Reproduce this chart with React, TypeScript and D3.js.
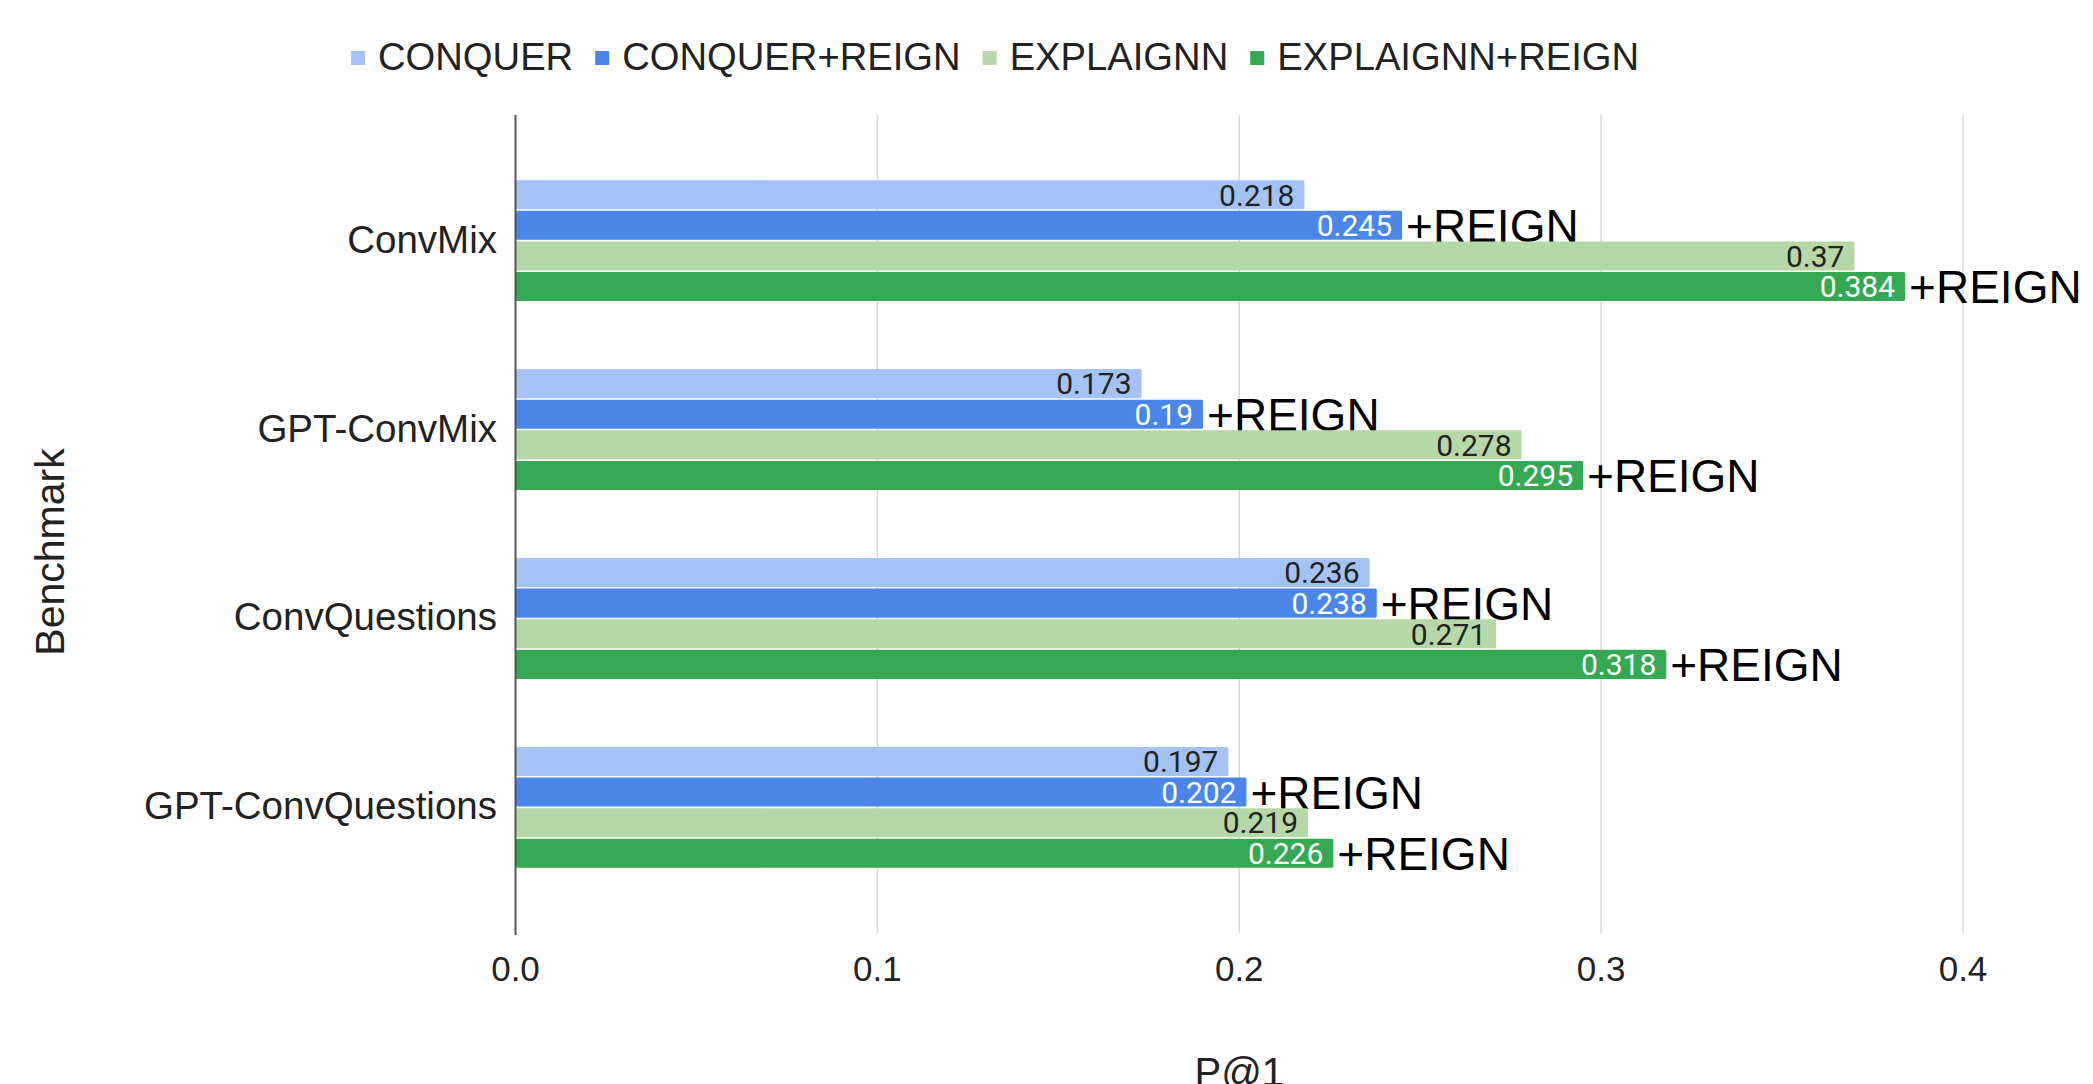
import React, { useEffect, useRef } from "react";
import * as d3 from "d3";

const categories = ["ConvMix", "GPT-ConvMix", "ConvQuestions", "GPT-ConvQuestions"];
const seriesNames = ["CONQUER", "CONQUER+REIGN", "EXPLAIGNN", "EXPLAIGNN+REIGN"];
const seriesColors = ["#a4c2f4", "#4a86e8", "#b6d7a8", "#34a853"];
const labelColors = ["#222222", "#ffffff", "#222222", "#ffffff"];
const conquer = [0.218, 0.173, 0.236, 0.197];
const conquerReign = [0.245, 0.19, 0.238, 0.202];
const explaignn = [0.37, 0.278, 0.271, 0.219];
const explaignnReign = [0.384, 0.295, 0.318, 0.226];
const seriesValues = [conquer, conquerReign, explaignn, explaignnReign];
const annotated = [false, true, false, true];
const xTicks = [0, 0.1, 0.2, 0.3, 0.4];
const annotationText = "+REIGN";

const W = 2093;
const H = 1084;
const FONT = "'Liberation Sans', Arial, sans-serif";
const LABEL_FONT = "Roboto, 'Noto Sans', sans-serif";

export default function App() {
  const ref = useRef<SVGSVGElement | null>(null);

  useEffect(() => {
    document.body.style.margin = "0";
    const svg = d3.select(ref.current);
    svg.selectAll("*").remove();

    const x = d3.scaleLinear().domain([0, 0.4]).range([515.5, 1963]);
    const y = d3
      .scaleBand<string>()
      .domain(categories)
      .range([115, 933])
      .paddingInner(0.36)
      .paddingOuter(0.345);
    const yi = d3
      .scaleBand<string>()
      .domain(seriesNames)
      .range([0, y.bandwidth()])
      .paddingInner(0.05);

    // gridlines
    svg
      .append("g")
      .selectAll("line")
      .data(xTicks.filter((t) => t > 0))
      .join("line")
      .attr("x1", (d) => x(d))
      .attr("x2", (d) => x(d))
      .attr("y1", 115)
      .attr("y2", 933)
      .attr("stroke", "#d9d9d9")
      .attr("stroke-width", 1.5);

    // tick labels
    svg
      .append("g")
      .selectAll("text")
      .data(xTicks)
      .join("text")
      .attr("x", (d) => x(d))
      .attr("y", 981)
      .attr("text-anchor", "middle")
      .attr("font-family", FONT)
      .attr("font-size", 35)
      .attr("fill", "#222")
      .text((d) => d3.format(".1f")(d));

    // bars
    const groups = svg
      .append("g")
      .selectAll("g")
      .data(categories)
      .join("g")
      .attr("transform", (c) => `translate(0,${y(c)})`);

    groups.each(function (c, ci) {
      const g = d3.select(this);
      seriesNames.forEach((s, si) => {
        const v = seriesValues[si][ci];
        const by = yi(s)!;
        const bh = yi.bandwidth();
        g.append("rect")
          .attr("x", x(0))
          .attr("y", by)
          .attr("width", x(v) - x(0))
          .attr("height", bh)
          .attr("rx", 1.5)
          .attr("fill", seriesColors[si]);
        g.append("text")
          .attr("x", x(v) - 10)
          .attr("y", by + bh / 2)
          .attr("dy", "0.36em")
          .attr("text-anchor", "end")
          .attr("font-family", LABEL_FONT)
          .attr("font-size", 30)
          .attr("fill", labelColors[si])
          .text(String(v));
        if (annotated[si]) {
          g.append("text")
            .attr("x", x(v) + 4)
            .attr("y", by + bh + 2)
            .attr("font-family", FONT)
            .attr("font-size", 46)
            .attr("fill", "#000")
            .text(annotationText);
        }
      });
    });

    // zero axis line
    svg
      .append("line")
      .attr("x1", x(0))
      .attr("x2", x(0))
      .attr("y1", 115)
      .attr("y2", 935)
      .attr("stroke", "#555")
      .attr("stroke-width", 2);

    // category labels
    svg
      .append("g")
      .selectAll("text")
      .data(categories)
      .join("text")
      .attr("x", 497)
      .attr("y", (c) => y(c)! + y.bandwidth() / 2 + 12)
      .attr("text-anchor", "end")
      .attr("font-family", FONT)
      .attr("font-size", 38.5)
      .attr("fill", "#222")
      .text((c) => c);

    // axis titles
    svg
      .append("text")
      .attr("transform", "translate(64,552) rotate(-90)")
      .attr("text-anchor", "middle")
      .attr("font-family", FONT)
      .attr("font-size", 41)
      .attr("fill", "#222")
      .text("Benchmark");
    svg
      .append("text")
      .attr("x", (x(0) + x(0.4)) / 2)
      .attr("y", 1086)
      .attr("text-anchor", "middle")
      .attr("font-family", FONT)
      .attr("font-size", 40)
      .attr("fill", "#222")
      .text("P@1");

    // legend
    const legend = svg.append("g");
    let lx = 351;
    seriesNames.forEach((s, si) => {
      legend
        .append("rect")
        .attr("x", lx)
        .attr("y", 51)
        .attr("width", 14)
        .attr("height", 14)
        .attr("fill", seriesColors[si]);
      const t = legend
        .append("text")
        .attr("x", lx + 27)
        .attr("y", 70)
        .attr("font-family", FONT)
        .attr("font-size", 38.2)
        .attr("fill", "#222")
        .text(s);
      const w = (t.node() as SVGTextElement).getComputedTextLength();
      lx += 27 + w + 22;
    });
  }, []);

  return (
    <svg
      ref={ref}
      width={W}
      height={H}
      style={{ display: "block", background: "#fff" }}
    />
  );
}
